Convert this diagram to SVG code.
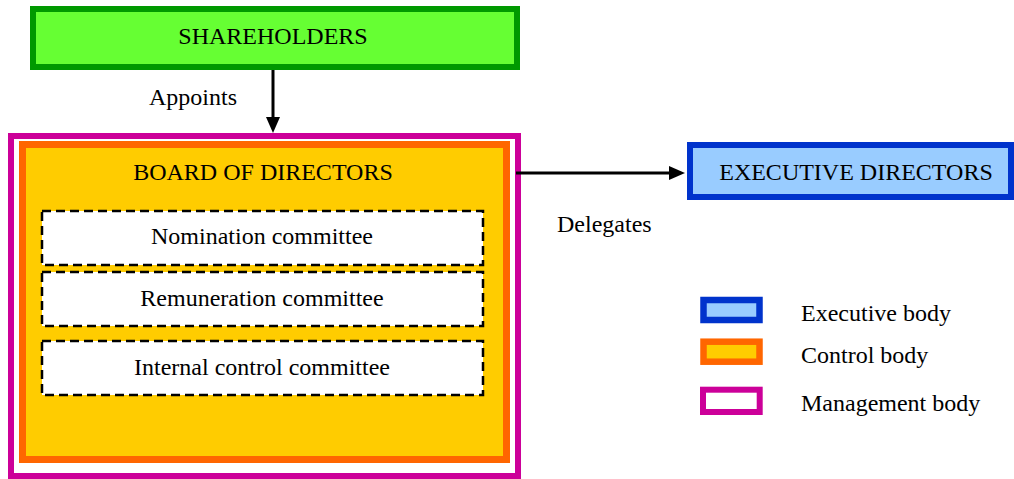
<svg xmlns="http://www.w3.org/2000/svg" width="1014" height="479" viewBox="0 0 1014 479">
  <style>
    text { font-family: "Liberation Serif", "Times New Roman", serif; font-size: 24px; fill: #000; }
    .mid { text-anchor: middle; }
    .green { fill: #66ff33; stroke: #009900; stroke-width: 6; }
    .mgmt { fill: #ffffff; stroke: #cc0099; stroke-width: 6; }
    .ctrl { fill: #ffcc00; stroke: #ff6600; stroke-width: 7; }
    .exec { fill: #99ccff; stroke: #0033cc; stroke-width: 6; }
    .comm { fill: #ffffff; stroke: #000; stroke-width: 2.5; stroke-dasharray: 9 5; }
    .conn { stroke: #000; stroke-width: 3; fill: none; }
  </style>
  <defs>
    <marker id="arrow" markerUnits="userSpaceOnUse" markerWidth="16" markerHeight="14" viewBox="0 0 16 14" refX="0" refY="7" orient="auto">
      <path d="M0,0 L16,7 L0,14 z" fill="#000"/>
    </marker>
  </defs>

  <g id="shareholders">
    <rect class="green" x="33" y="9" width="484" height="58"/>
    <text class="mid" x="273" y="44">SHAREHOLDERS</text>
  </g>

  <g id="management-body">
    <rect class="mgmt" x="11" y="136" width="507" height="340"/>
  </g>

  <g id="board-of-directors">
    <rect class="ctrl" x="22.5" y="144.5" width="484" height="315"/>
    <text class="mid" x="263" y="180">BOARD OF DIRECTORS</text>
  </g>

  <g id="nomination-committee">
    <rect class="comm" x="42" y="211" width="441" height="54"/>
    <text class="mid" x="262" y="244">Nomination committee</text>
  </g>

  <g id="remuneration-committee">
    <rect class="comm" x="42" y="272" width="441" height="54"/>
    <text class="mid" x="262" y="306">Remuneration committee</text>
  </g>

  <g id="internal-control-committee">
    <rect class="comm" x="42" y="341" width="441" height="54"/>
    <text class="mid" x="262" y="375">Internal control committee</text>
  </g>

  <g id="executive-directors">
    <rect class="exec" x="690" y="145" width="321" height="52"/>
    <text class="mid" x="856" y="180">EXECUTIVE DIRECTORS</text>
  </g>

  <g id="connectors">
    <line class="conn" x1="273" y1="70" x2="273" y2="117" marker-end="url(#arrow)"/>
    <text x="149" y="105">Appoints</text>
    <line class="conn" x1="516" y1="173" x2="669" y2="173" marker-end="url(#arrow)"/>
    <text x="557" y="232">Delegates</text>
  </g>

  <g id="legend">
    <rect class="exec" x="703.5" y="300" width="56" height="20" style="stroke-width:6.5"/>
    <text x="801" y="321">Executive body</text>
    <rect class="ctrl" x="703.5" y="341.7" width="56" height="20" style="stroke-width:6.5"/>
    <text x="801" y="363">Control body</text>
    <rect class="mgmt" x="703" y="389.7" width="56.7" height="22.3"/>
    <text x="801" y="411">Management body</text>
  </g>
</svg>
